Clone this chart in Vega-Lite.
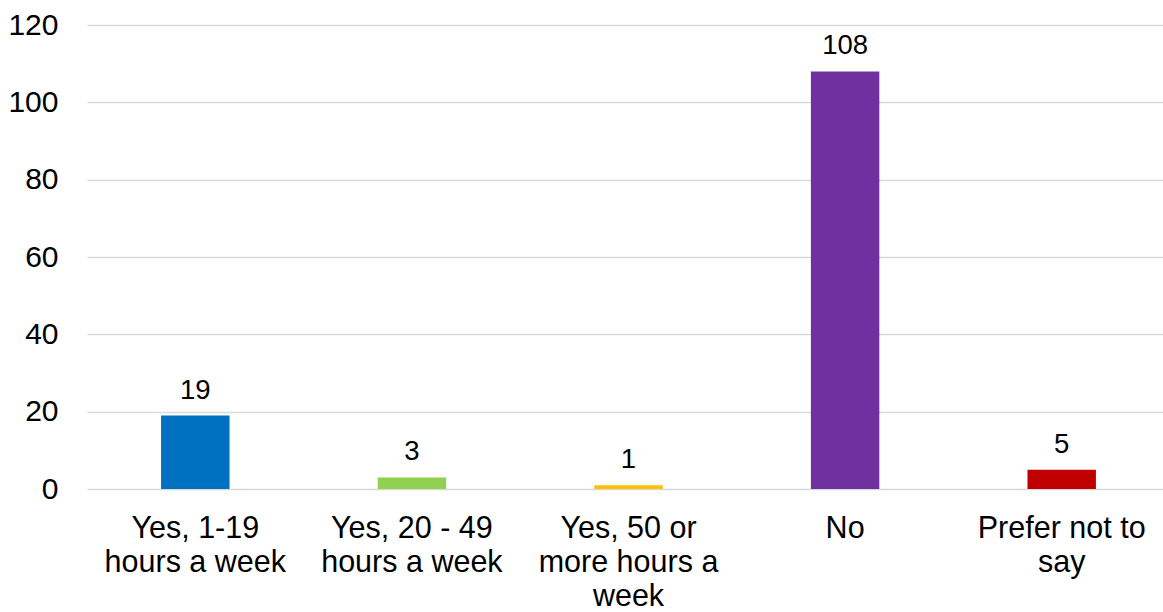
{
  "$schema": "https://vega.github.io/schema/vega-lite/v6.json",
  "autosize": "none",
  "width": 1083,
  "height": 464,
  "padding": {"left": 87, "top": 25, "right": -7, "bottom": 123},
  "background": "white",
  "config": {
    "view": {"stroke": null},
    "font": "Liberation Sans"
  },
  "data": {
    "values": [
      {"category": "Yes, 1-19 hours a week", "count": 19, "color": "#0070C0"},
      {"category": "Yes, 20 - 49 hours a week", "count": 3, "color": "#92D050"},
      {"category": "Yes, 50 or more hours a week", "count": 1, "color": "#FFC000"},
      {"category": "No", "count": 108, "color": "#7030A0"},
      {"category": "Prefer not to say", "count": 5, "color": "#C00000"}
    ]
  },
  "encoding": {
    "x": {
      "field": "category",
      "type": "nominal",
      "sort": null,
      "scale": {"paddingInner": 0, "paddingOuter": 0},
      "axis": {
        "title": null,
        "labelAngle": 0,
        "labelFontSize": 30.5,
        "labelColor": "#000000",
        "labelLineHeight": 34,
        "labelPadding": 48.5,
        "labelBaseline": "alphabetic",
        "labelLimit": 400,
        "labelOverlap": false,
        "domain": false,
        "ticks": false,
        "labelExpr": "datum.value == 'Yes, 1-19 hours a week' ? ['Yes, 1-19', 'hours a week'] : datum.value == 'Yes, 20 - 49 hours a week' ? ['Yes, 20 - 49', 'hours a week'] : datum.value == 'Yes, 50 or more hours a week' ? ['Yes, 50 or', 'more hours a', 'week'] : datum.value == 'Prefer not to say' ? ['Prefer not to', 'say'] : datum.value"
      }
    },
    "y": {
      "field": "count",
      "type": "quantitative",
      "scale": {"domain": [0, 120]},
      "axis": {
        "title": null,
        "values": [0, 20, 40, 60, 80, 100, 120],
        "labelFontSize": 30,
        "labelColor": "#000000",
        "labelPadding": 29,
        "domain": false,
        "ticks": false,
        "grid": true,
        "gridColor": "#d9d9d9",
        "gridWidth": 1.5
      }
    }
  },
  "layer": [
    {
      "mark": {"type": "bar", "width": {"band": 0.316}},
      "encoding": {
        "color": {"field": "color", "type": "nominal", "scale": null}
      }
    },
    {
      "mark": {"type": "text", "fontSize": 27.5, "color": "#000000", "baseline": "alphabetic", "dy": -17},
      "encoding": {
        "text": {"field": "count", "type": "quantitative"}
      }
    }
  ]
}
